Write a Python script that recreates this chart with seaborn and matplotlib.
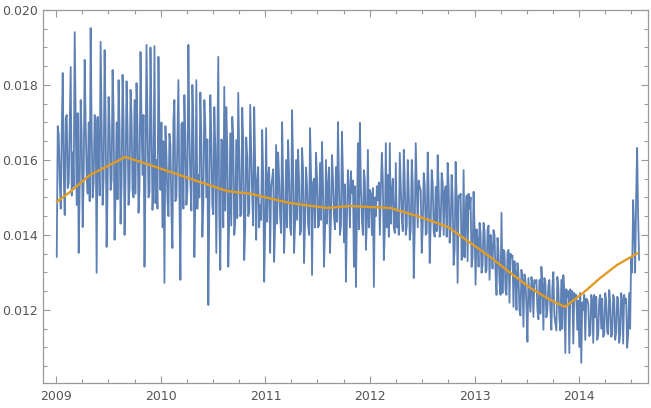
import numpy as np
import pandas as pd
import matplotlib
matplotlib.use("Agg")
import matplotlib.pyplot as plt
import matplotlib.dates as mdates
from matplotlib.ticker import MultipleLocator, FormatStrFormatter
import seaborn as sns

# Daily volatility series (units of 1e-5), evenly spaced in time
series_start = "2009-01-02"
series_end = "2014-07-29"
vol = [
    1341, 1690, 1667, 1545, 1470, 1675, 1832, 1560, 1453, 1710, 1720, 1525, 1540, 1690, 1848, 1505, 1620, 1530, 1941, 1715,
    1480, 1725, 1352, 1530, 1760, 1665, 1421, 1550, 1867, 1695, 1560, 1510, 1700, 1490, 1952, 1680, 1500, 1540, 1720, 1705,
    1299, 1715, 1650, 1505, 1915, 1685, 1480, 1550, 1893, 1710, 1368, 1525, 1768, 1690, 1520, 1545, 1840, 1725, 1387, 1515,
    1700, 1495, 1813, 1680, 1430, 1540, 1827, 1705, 1400, 1555, 1810, 1690, 1480, 1525, 1787, 1715, 1520, 1500, 1760, 1510,
    1805, 1685, 1459, 1525, 1888, 1710, 1560, 1720, 1315, 1550, 1907, 1695, 1500, 1515, 1900, 1700, 1467, 1535, 1904, 1485,
    1600, 1470, 1875, 1660, 1520, 1700, 1420, 1650, 1272, 1690, 1613, 1495, 1450, 1670, 1640, 1460, 1365, 1705, 1760, 1490,
    1500, 1665, 1813, 1505, 1280, 1695, 1700, 1470, 1773, 1650, 1480, 1520, 1907, 1675, 1540, 1465, 1800, 1700, 1341, 1495,
    1813, 1470, 1560, 1500, 1780, 1660, 1395, 1485, 1760, 1690, 1500, 1655, 1213, 1475, 1773, 1670, 1480, 1455, 1741, 1635,
    1352, 1625, 1875, 1450, 1307, 1655, 1650, 1420, 1795, 1465, 1741, 1630, 1315, 1445, 1671, 1425, 1715, 1660, 1400, 1435,
    1653, 1445, 1779, 1620, 1450, 1455, 1739, 1645, 1333, 1420, 1660, 1610, 1450, 1460, 1747, 1625, 1500, 1425, 1741, 1590,
    1387, 1545, 1581, 1420, 1480, 1440, 1680, 1560, 1275, 1415, 1685, 1435, 1555, 1580, 1352, 1530, 1550, 1575, 1328, 1425,
    1640, 1430, 1620, 1550, 1450, 1405, 1701, 1540, 1352, 1445, 1600, 1420, 1653, 1565, 1420, 1400, 1733, 1585, 1352, 1430,
    1600, 1440, 1627, 1545, 1400, 1410, 1632, 1575, 1325, 1435, 1580, 1530, 1430, 1400, 1685, 1560, 1293, 1540, 1550, 1420,
    1619, 1555, 1420, 1425, 1592, 1440, 1648, 1535, 1315, 1410, 1600, 1430, 1528, 1580, 1352, 1445, 1613, 1550, 1450, 1415,
    1581, 1435, 1701, 1540, 1400, 1425, 1675, 1560, 1380, 1535, 1275, 1445, 1573, 1520, 1420, 1570, 1512, 1545, 1315, 1530,
    1261, 1440, 1645, 1415, 1699, 1530, 1440, 1400, 1573, 1545, 1360, 1435, 1627, 1420, 1520, 1510, 1400, 1525, 1261, 1500,
    1450, 1530, 1493, 1540, 1400, 1520, 1619, 1545, 1333, 1410, 1645, 1420, 1560, 1395, 1645, 1430, 1512, 1550, 1421, 1405,
    1592, 1420, 1460, 1400, 1619, 1525, 1440, 1410, 1627, 1540, 1400, 1425, 1600, 1515, 1387, 1415, 1600, 1535, 1285, 1420,
    1645, 1530, 1420, 1545, 1528, 1520, 1352, 1420, 1565, 1535, 1400, 1405, 1620, 1510, 1325, 1430, 1573, 1540, 1410, 1395,
    1528, 1410, 1613, 1525, 1395, 1420, 1565, 1540, 1400, 1515, 1530, 1395, 1592, 1530, 1379, 1420, 1560, 1500, 1320, 1360,
    1595, 1500, 1272, 1505, 1499, 1510, 1333, 1345, 1573, 1340, 1448, 1505, 1330, 1510, 1470, 1500, 1315, 1340, 1515, 1420,
    1267, 1415, 1387, 1315, 1432, 1405, 1299, 1320, 1432, 1410, 1300, 1305, 1413, 1425, 1280, 1400, 1368, 1310, 1413, 1400,
    1300, 1240, 1392, 1355, 1272, 1240, 1459, 1245, 1360, 1355, 1253, 1240, 1352, 1360, 1219, 1350, 1339, 1345, 1208, 1330,
    1300, 1200, 1325, 1295, 1200, 1185, 1307, 1280, 1155, 1295, 1280, 1210, 1115, 1285, 1240, 1195, 1288, 1270, 1181, 1280,
    1272, 1280, 1200, 1175, 1280, 1190, 1315, 1270, 1147, 1285, 1275, 1180, 1200, 1265, 1280, 1200, 1147, 1260, 1301, 1185,
    1165, 1145, 1288, 1260, 1180, 1145, 1280, 1150, 1293, 1250, 1085, 1255, 1235, 1250, 1085, 1255, 1219, 1250, 1110, 1245,
    1227, 1240, 1147, 1225, 1101, 1245, 1059, 1220, 1200, 1240, 1120, 1230, 1227, 1215, 1130, 1135, 1240, 1225, 1112, 1240,
    1181, 1235, 1120, 1135, 1227, 1240, 1150, 1230, 1128, 1135, 1245, 1225, 1140, 1135, 1253, 1220, 1128, 1135, 1240, 1230,
    1120, 1140, 1235, 1230, 1112, 1135, 1245, 1225, 1110, 1240, 1219, 1230, 1099, 1135, 1245, 1150, 1341, 1300, 1493, 1420,
    1299, 1500, 1632, 1450, 1333,
]

# Smoothed trend (units of 1e-5)
trend_dates = [
    "2009-01-02", "2009-02-18", "2009-04-28", "2009-07-07", "2009-08-29",
    "2009-10-21", "2010-02-03", "2010-05-18", "2010-08-20", "2010-11-08",
    "2011-03-28", "2011-08-04", "2011-10-23", "2012-03-12", "2012-06-24",
    "2012-09-30", "2012-12-16", "2013-02-24", "2013-05-05", "2013-07-13",
    "2013-09-21", "2013-11-12", "2014-01-14", "2014-03-15", "2014-05-13",
    "2014-07-25",
]
trend_vals = [
    1488, 1515, 1560, 1587, 1608, 1595, 1568, 1541, 1517, 1510,
    1485, 1472, 1477, 1472, 1448, 1421, 1379, 1341, 1299, 1259,
    1227, 1208, 1245, 1285, 1320, 1352,
]

BLUE = "#5E81B5"
ORANGE = "#E19C24"
FRAME = "#9a9a9a"
LABEL = "#555555"

df = pd.DataFrame({
    "date": pd.date_range(series_start, series_end, periods=len(vol)),
    "vol": np.array(vol) * 1e-5,
})
tf = pd.DataFrame({
    "date": pd.to_datetime(trend_dates),
    "vol": np.array(trend_vals) * 1e-5,
})

sns.set_style("ticks")
plt.rcParams["font.family"] = ["DejaVu Sans"]

fig = plt.figure(figsize=(6.51, 4.08), dpi=100)
ax = fig.add_axes([43 / 651, 25 / 408, 605 / 651, 373 / 408])

sns.lineplot(data=df, x="date", y="vol", ax=ax, color=BLUE, lw=1.3,
             estimator=None, sort=False)
sns.lineplot(data=tf, x="date", y="vol", ax=ax, color=ORANGE, lw=1.7,
             estimator=None, sort=False)

ax.set_xlim(pd.Timestamp("2008-11-15"), pd.Timestamp("2014-08-29"))
ax.set_ylim(0.01005, 0.0200)
ax.set_xlabel("")
ax.set_ylabel("")

ax.xaxis.set_major_locator(mdates.YearLocator())
ax.xaxis.set_major_formatter(mdates.DateFormatter("%Y"))
ax.xaxis.set_minor_locator(mdates.MonthLocator(bymonth=[4, 7, 10]))
ax.yaxis.set_major_locator(MultipleLocator(0.002))
ax.yaxis.set_minor_locator(MultipleLocator(0.0005))
ax.yaxis.set_major_formatter(FormatStrFormatter("%.3f"))

for s in ax.spines.values():
    s.set_color(FRAME)
    s.set_linewidth(0.9)
ax.tick_params(which="both", direction="in", top=True, right=True,
               color=FRAME, labelcolor=LABEL, labelsize=9, width=0.8)
ax.tick_params(which="major", length=5)
ax.tick_params(which="minor", length=3)
ax.tick_params(axis="y", which="major", pad=3.5)
ax.tick_params(axis="x", which="major", pad=5)

fig.savefig("out.png", dpi=100)
